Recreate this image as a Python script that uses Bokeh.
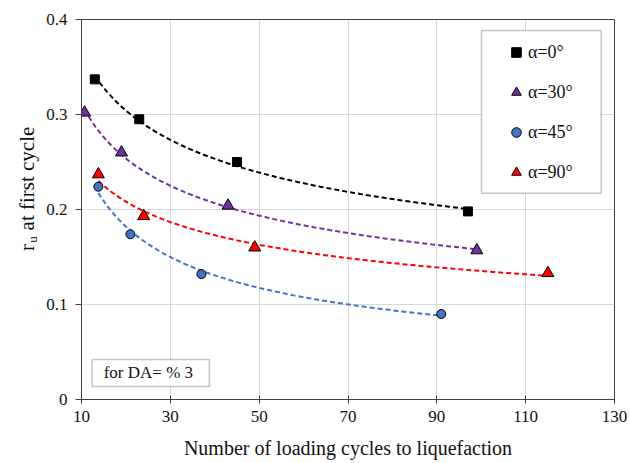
import numpy as np
from bokeh.plotting import figure
from bokeh.layouts import row
from bokeh.models import (Range1d, Label, BoxAnnotation, Legend, LegendItem,
                          CustomJSTickFormatter)
from bokeh.embed import file_html
from bokeh.resources import INLINE

# ---- data ----
x_a0 = [13, 23, 45, 97]
y_a0 = [0.337, 0.295, 0.250, 0.198]
x_a30 = [10.7, 19, 43, 99]
y_a30 = [0.302, 0.260, 0.204, 0.157]
x_a45 = [13.8, 21, 37, 91]
y_a45 = [0.224, 0.174, 0.132, 0.090]
x_a90 = [13.8, 24, 49, 115]
y_a90 = [0.237, 0.193, 0.160, 0.133]

series_labels = ["α=0°", "α=30°", "α=45°", "α=90°"]
x_ticks = [10, 30, 50, 70, 90, 110, 130]
y_ticks = [0, 0.1, 0.2, 0.3, 0.4]
x_title = "Number of loading cycles to liquefaction"
y_title_main, y_title_sub, y_title_rest = "r", "u", "at first cycle"
note_text = "for  DA= % 3"

FONT = "Liberation Serif"
AX = "#404040"
TXT = "#111111"

# ---------------- main chart ----------------
p = figure(width=590, height=463, x_range=Range1d(10, 130), y_range=Range1d(0, 0.4),
           output_backend="svg", toolbar_location=None,
           min_border_left=41, min_border_right=16, min_border_top=19, min_border_bottom=64)
p.background_fill_color = "white"
p.border_fill_color = "white"
p.outline_line_color = AX
p.outline_line_width = 1

p.xaxis.ticker = x_ticks
p.yaxis.ticker = y_ticks
p.yaxis.formatter = CustomJSTickFormatter(code="return tick == 0 ? '0' : tick.toFixed(1);")
p.grid.grid_line_color = "#d9d9d9"
p.grid.grid_line_width = 1

p.axis.axis_line_color = AX
p.axis.major_tick_line_color = AX
p.axis.minor_tick_line_color = None
p.axis.major_label_text_font = FONT
p.axis.major_label_text_font_size = "17px"
p.axis.major_label_text_color = TXT
p.xaxis.major_tick_in = 4
p.xaxis.major_tick_out = 4
p.yaxis.major_tick_in = 0
p.yaxis.major_tick_out = 6
p.xaxis.major_label_standoff = 7
p.yaxis.major_label_standoff = 8

p.xaxis.axis_label = x_title
p.xaxis.axis_label_text_font = FONT
p.xaxis.axis_label_text_font_size = "20px"
p.xaxis.axis_label_text_font_style = "normal"
p.xaxis.axis_label_text_color = TXT
p.xaxis.axis_label_standoff = 12

# ---- power trendlines (least-squares fit on the data, like the original) ----
def trend(xs, ys):
    b, ln_a = np.polyfit(np.log(xs), np.log(ys), 1)
    xx = np.linspace(min(xs), max(xs), 150)
    return xx, np.exp(ln_a) * xx ** b

series = [
    (x_a0, y_a0, "#000000", "square", "#000000", 9),
    (x_a30, y_a30, "#7030A0", "triangle", "#7030A0", 12),
    (x_a45, y_a45, "#4472C4", "circle", "#4472C4", 9),
    (x_a90, y_a90, "#FF0000", "triangle", "#FF0000", 12),
]

renderers = []
for xs, ys, lc, marker, fc, sz in series:
    tx, ty = trend(xs, ys)
    p.line(tx, ty, line_color=lc, line_width=2, line_dash="5 3")
for xs, ys, lc, marker, fc, sz in series:
    r = p.scatter(xs, ys, marker=marker, size=sz, fill_color=fc,
                  line_color="#000000", line_width=1)
    renderers.append(r)

# note box
p.add_layout(BoxAnnotation(left=12.4, right=38.8, bottom=0.0137, top=0.0421,
                           fill_color="white", fill_alpha=1.0,
                           line_color=AX, line_width=1.5))
p.add_layout(Label(x=15.0, y=0.0279, text=note_text, text_baseline="middle",
                   text_font=FONT, text_font_size="17px", text_color=TXT))

# legend frame + legend
p.add_layout(BoxAnnotation(left=100.06, right=127.0, bottom=0.2172, top=0.3884,
                           fill_color="white", fill_alpha=1.0,
                           line_color=AX, line_width=1.5))
legend = Legend(items=[LegendItem(label=l, renderers=[r]) for l, r in zip(series_labels, renderers)],
                location=(413, 205), padding=10, spacing=16, margin=0,
                glyph_width=24, glyph_height=24, label_height=24, label_standoff=0,
                border_line_alpha=0, background_fill_alpha=0,
                label_text_font=FONT, label_text_font_size="18px", label_text_color=TXT)
p.add_layout(legend)

# ---------------- y-axis title strip (r with subscript u) ----------------
t = figure(width=40, height=463, x_range=Range1d(0, 40), y_range=Range1d(0, 463),
           output_backend="svg", toolbar_location=None, min_border=0,
           x_axis_type=None, y_axis_type=None)
t.outline_line_color = None
t.background_fill_color = "white"
t.border_fill_color = "white"
t.grid.visible = False
ang = np.pi / 2
t.add_layout(Label(x=26, y=181, text=y_title_main, angle=ang, text_font=FONT,
                   text_font_size="21px", text_baseline="alphabetic", text_color=TXT))
t.add_layout(Label(x=31.5, y=191, text=y_title_sub, angle=ang, text_font=FONT,
                   text_font_size="13px", text_baseline="alphabetic", text_color=TXT))
t.add_layout(Label(x=26, y=206, text=y_title_rest, angle=ang, text_font=FONT,
                   text_font_size="21px", text_baseline="alphabetic", text_color=TXT))

layout = row(t, p, spacing=0)
open("out.html", "w").write(file_html(layout, INLINE))
